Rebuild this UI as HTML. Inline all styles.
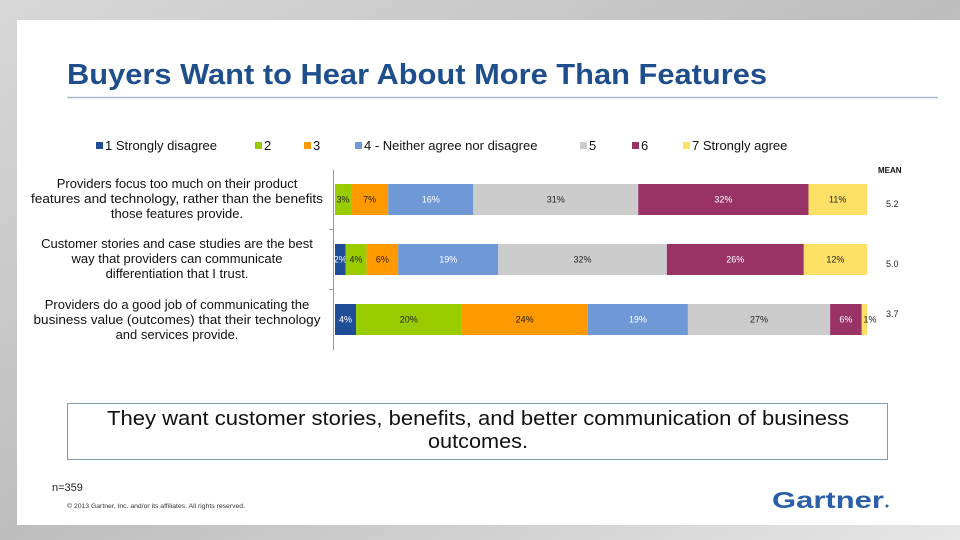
<!DOCTYPE html>
<html><head><meta charset="utf-8"><style>
html,body{margin:0;padding:0;width:960px;height:540px;overflow:hidden;background:#fff}
svg{display:block;font-family:"Liberation Sans",Arial,sans-serif}
</style></head><body>
<svg id="chart" width="960" height="540" viewBox="0 0 960 540">
<defs>
<linearGradient id="bg" x1="0" y1="0" x2="1" y2="1">
<stop offset="0" stop-color="#d8d8d8"/><stop offset="0.5" stop-color="#bdbdbd"/><stop offset="1" stop-color="#e6e6e6"/>
</linearGradient>
</defs>
<rect x="0" y="0" width="960" height="540" fill="url(#bg)"/>
<rect x="17" y="20" width="943" height="505" fill="#ffffff"/>
<text x="67" y="84" font-size="29" font-weight="bold" fill="#1f4e8c" textLength="700" lengthAdjust="spacingAndGlyphs">Buyers Want to Hear About More Than Features</text>
<line x1="67" y1="97.5" x2="938" y2="97.5" stroke="#a9b8cc" stroke-width="1.5"/>
<g id="legend"></g>
<g id="labels" font-size="13" fill="#111" text-anchor="middle">
<text x="177" y="188">Providers focus too much on their product</text>
<text x="177" y="203" textLength="292" lengthAdjust="spacingAndGlyphs">features and technology, rather than the benefits</text>
<text x="177" y="218">those features provide.</text>
<text x="177" y="248">Customer stories and case studies are the best</text>
<text x="177" y="263">way that providers can communicate</text>
<text x="177" y="278">differentiation that I trust.</text>
<text x="177" y="309">Providers do a good job of communicating the</text>
<text x="177" y="324" textLength="287" lengthAdjust="spacingAndGlyphs">business value (outcomes) that their technology</text>
<text x="177" y="339">and services provide.</text>
</g>
<line x1="333.5" y1="170" x2="333.5" y2="350" stroke="#999"/>
<line x1="329" y1="229.5" x2="333" y2="229.5" stroke="#999"/>
<line x1="329" y1="289.5" x2="333" y2="289.5" stroke="#999"/>
<g id="bars"></g>
<text x="878" y="173" font-size="8" font-weight="bold" fill="#111">MEAN</text>
<g id="means"></g>
<rect x="67.5" y="403.5" width="820" height="56" fill="#fff" stroke="#7a9fb0"/>
<text x="478" y="425" font-size="20" text-anchor="middle" fill="#111" textLength="742" lengthAdjust="spacingAndGlyphs">They want customer stories, benefits, and better communication of business</text>
<text x="478" y="448" font-size="20" text-anchor="middle" fill="#111" textLength="100" lengthAdjust="spacingAndGlyphs">outcomes.</text>
<text x="52" y="491" font-size="11" fill="#222">n=359</text>
<text x="67" y="508" font-size="6" fill="#333" textLength="178" lengthAdjust="spacingAndGlyphs">© 2013 Gartner, Inc. and/or its affiliates. All rights reserved.</text>
<text x="772" y="508" font-size="23" font-weight="bold" fill="#2a5ea8" textLength="112" lengthAdjust="spacingAndGlyphs">Gartner</text>
<circle cx="887" cy="506" r="1.5" fill="#2a5ea8"/>
</svg>
<script>
const categories = ["Providers focus too much", "Customer stories", "Providers do a good job"];
const legendLabels = ["1 Strongly disagree","2","3","4 - Neither agree nor disagree","5","6","7 Strongly agree"];
const s1 = [0, 2, 4];
const s2 = [3, 4, 20];
const s3 = [7, 6, 24];
const s4 = [16, 19, 19];
const s5 = [31, 32, 27];
const s6 = [32, 26, 6];
const s7 = [11, 12, 1];
const means = ["5.2", "5.0", "3.7"];
const series = [s1,s2,s3,s4,s5,s6,s7];
const colors = ["#1f4e96","#99cc00","#ff9900","#6f98d6","#cccccc","#993366","#ffe066"];
const txtColors = ["#fff","#222","#222","#fff","#222","#fff","#222"];
const NS = "http://www.w3.org/2000/svg";
const x0 = 335, x1 = 867, rowTop = 184, rowStep = 60, barH = 31;
function xScale(v, total){ return x0 + (x1 - x0) * v / total; }
function yScale(i){ return rowTop + i * rowStep; }
const bars = document.getElementById('bars');
categories.forEach((c, i) => {
  const total = series.reduce((a, s) => a + s[i], 0);
  let cum = 0;
  series.forEach((s, k) => {
    const v = s[i];
    if (v <= 0) return;
    const xa = xScale(cum, total), xb = xScale(cum + v, total);
    const r = document.createElementNS(NS, 'rect');
    
    
    r.setAttribute('x', xa); r.setAttribute('y', yScale(i));
    r.setAttribute('width', xb - xa); r.setAttribute('height', barH);
    r.setAttribute('fill', colors[k]);
    bars.appendChild(r);
    const t = document.createElementNS(NS, 'text');
    
    
    let tx = (xa + xb) / 2;
    if (v === 1) tx = xb + 3;
    t.setAttribute('x', tx); t.setAttribute('y', yScale(i) + barH/2 + 3);
    t.setAttribute('font-size', '9'); t.setAttribute('text-anchor', 'middle');
    t.setAttribute('fill', v === 1 ? '#222' : txtColors[k]);
    t.textContent = v + '%';
    bars.appendChild(t);
    cum += v;
  });
  const m = document.createElementNS(NS, 'text');
  
  
  m.setAttribute('x', 886); m.setAttribute('y', yScale(i) + (i===2 ? 13 : 23));
  m.setAttribute('font-size', '9'); m.setAttribute('fill', '#222');
  m.textContent = means[i];
  document.getElementById('means').appendChild(m);
});
const legX = [96, 255, 304, 355, 580, 632, 683];
const leg = document.getElementById('legend');
legendLabels.forEach((l, k) => {
  const r = document.createElementNS(NS, 'rect');
  
  
  r.setAttribute('x', legX[k]); r.setAttribute('y', 142);
  r.setAttribute('width', 7); r.setAttribute('height', 7);
  r.setAttribute('fill', colors[k]);
  leg.appendChild(r);
  const t = document.createElementNS(NS, 'text');
  
  
  t.setAttribute('x', legX[k] + 9); t.setAttribute('y', 150);
  t.setAttribute('font-size', '13'); t.setAttribute('fill', '#111');
  t.textContent = l;
  leg.appendChild(t);
});
</script>
</body></html>
